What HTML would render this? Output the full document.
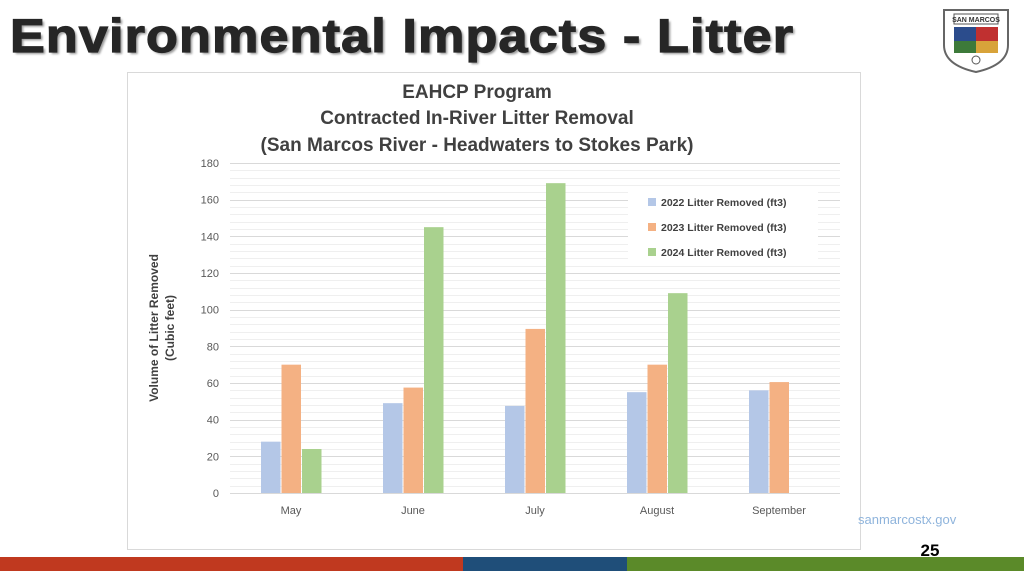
<!DOCTYPE html>
<html><head><style>
body{margin:0;width:1024px;height:571px;background:#fff;position:relative;overflow:hidden;font-family:"Liberation Sans",sans-serif}
.t{position:absolute;left:10px;top:8px;font-size:47px;font-weight:bold;color:#262626;letter-spacing:1px;text-shadow:2px 2px 2px #999;white-space:nowrap;transform-origin:0 0;transform:scaleX(1.11);-webkit-text-stroke:1.2px #262626}
</style></head><body>
<div class="t">Environmental Impacts - Litter</div>
<svg style="position:absolute;left:0;top:0" width="1024" height="571">
<g>
<path d="M944 10 L1008 10 L1008 45 Q1008 65 976 72 Q944 65 944 45 Z" fill="#fff" stroke="#666" stroke-width="2"/>
<rect x="954" y="14" width="44" height="10" fill="#fff" stroke="#555"/>
<text x="976" y="22" font-size="7" text-anchor="middle" font-weight="bold" fill="#333">SAN MARCOS</text>
<rect x="954" y="27" width="22" height="14" fill="#2b4c8c"/><rect x="976" y="27" width="22" height="14" fill="#c03030"/>
<rect x="954" y="41" width="22" height="12" fill="#3d7a3a"/><rect x="976" y="41" width="22" height="12" fill="#d8a33a"/>
<circle cx="976" cy="60" r="4" fill="none" stroke="#555"/>
</g>
<rect x="127.5" y="72.5" width="733" height="477" fill="#fff" stroke="#d9d9d9"/>
<g font-family="Liberation Sans,sans-serif" font-weight="bold" fill="#404040" font-size="19" text-anchor="middle">
<text x="477" y="98">EAHCP Program</text>
<text x="477" y="124">Contracted In-River Litter Removal</text>
<text x="477" y="151">(San Marcos River - Headwaters to Stokes Park)</text>
</g>
<g id="grid"></g>
<g id="bars"></g>
<g font-size="11" fill="#595959" text-anchor="end" id="yl"></g>
<text transform="translate(158,328) rotate(-90)" text-anchor="middle" font-size="12" font-weight="bold" fill="#404040">Volume of Litter Removed</text>
<text transform="translate(174,328) rotate(-90)" text-anchor="middle" font-size="12" font-weight="bold" fill="#404040">(Cubic feet)</text>
<g font-size="11" fill="#595959" text-anchor="middle">
<text x="291" y="514">May</text><text x="413" y="514">June</text><text x="535" y="514">July</text><text x="657" y="514">August</text><text x="779" y="514">September</text>
</g>
<rect x="628" y="186" width="190" height="80" fill="#fff"/>
<g font-size="10.5" font-weight="bold" fill="#404040">
<rect x="648" y="198" width="8" height="8" fill="#b4c7e7"/><text x="661" y="206">2022 Litter Removed (ft3)</text>
<rect x="648" y="223" width="8" height="8" fill="#f4b183"/><text x="661" y="231">2023 Litter Removed (ft3)</text>
<rect x="648" y="248" width="8" height="8" fill="#a9d18e"/><text x="661" y="256">2024 Litter Removed (ft3)</text>
</g>
<text x="858" y="524" font-size="13" fill="#8fb4dc">sanmarcostx.gov</text>
<text x="930" y="556" font-size="17" font-weight="bold" text-anchor="middle" fill="#000">25</text>
<rect x="0" y="557" width="463" height="14" fill="#c0391f"/>
<rect x="463" y="557" width="164" height="14" fill="#1f4e79"/>
<rect x="627" y="557" width="397" height="14" fill="#5b8a29"/>
</svg>
<script>
const ns="http://www.w3.org/2000/svg",g=document.getElementById('grid'),b=document.getElementById('bars'),yl=document.getElementById('yl');
const y0=493,k=330/180;
function el(p,t,a){const e=document.createElementNS(ns,t);for(const i in a)e.setAttribute(i,a[i]);p.appendChild(e);return e}
for(let v=0;v<=180;v+=4){const y=Math.round(y0-v*k)+.5;el(g,'line',{x1:230,x2:840,y1:y,y2:y,stroke:v%20==0?'#d9d9d9':'#efefef','stroke-width':1});}
for(let v=0;v<=180;v+=20){el(yl,'text',{x:219,y:y0-v*k+4}).textContent=v;}
const d=[[28,70,24],[49,57.5,145],[47.5,89.5,169],[55,70,109],[56,60.5,0]],c=['#b4c7e7','#f4b183','#a9d18e'];
d.forEach((s,i)=>{const cx=291+122*i;s.forEach((v,j)=>{if(v)el(b,'rect',{x:cx-30+j*20.5,y:y0-v*k,width:19.5,height:v*k,fill:c[j]})})});
</script>
</body></html>
